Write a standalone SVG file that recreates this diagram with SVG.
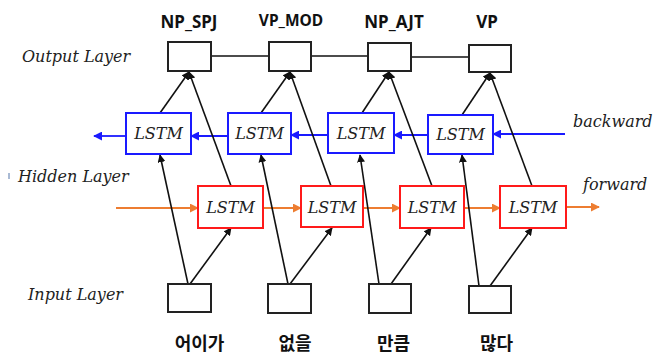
<svg xmlns="http://www.w3.org/2000/svg" width="672" height="356" viewBox="0 0 672 356">
<style>
.lbl{font-family:"DejaVu Serif",serif;font-style:italic;font-size:16px;fill:#222}
.cell{font-family:"DejaVu Serif",serif;font-style:italic;font-size:16px;fill:#222;text-anchor:middle}
.tag{font-family:"Noto Sans","Liberation Sans",sans-serif;font-weight:bold;fill:#111;text-anchor:middle}
.kor{font-family:"Noto Sans CJK KR",sans-serif;font-weight:bold;font-size:18px;fill:#111;text-anchor:middle}
.box{fill:#fff;stroke:#222;stroke-width:2}
.bl{fill:#fff;stroke:#1a1aff;stroke-width:2}
.rd{fill:#fff;stroke:#ff1a1a;stroke-width:2}
.k{stroke:#111;stroke-width:1.6;fill:none}
.kb{stroke:#1a1aff;stroke-width:1.8;fill:none}
.ko{stroke:#ed7d31;stroke-width:1.8;fill:none}
</style>
<defs>
<marker id="ak" viewBox="0 0 10 10" refX="9" refY="5" markerWidth="8" markerHeight="8" markerUnits="userSpaceOnUse" orient="auto"><path d="M0,0 L10,5 L0,10 z" fill="#111"/></marker>
<marker id="ab" viewBox="0 0 10 10" refX="9" refY="5" markerWidth="9" markerHeight="9" markerUnits="userSpaceOnUse" orient="auto"><path d="M0,0 L10,5 L0,10 z" fill="#1a1aff"/></marker>
<marker id="ao" viewBox="0 0 10 10" refX="9" refY="5" markerWidth="9" markerHeight="9" markerUnits="userSpaceOnUse" orient="auto"><path d="M0,0 L10,5 L0,10 z" fill="#ed7d31"/></marker>
</defs>

<text class="lbl" x="22" y="62">Output Layer</text>
<text class="lbl" x="18" y="182">Hidden Layer</text>
<text class="lbl" x="28" y="300">Input Layer</text>
<text class="lbl" x="573" y="127">backward</text>
<text class="lbl" x="583" y="190">forward</text>
<line x1="9" y1="173" x2="9" y2="179" stroke="#5577aa" stroke-width="1"/>

<g id="connectors">
<line class="k" x1="211" y1="56" x2="269" y2="56"/>
<line class="k" x1="311" y1="56" x2="368" y2="56"/>
<line class="k" x1="411" y1="57" x2="469" y2="57"/>
<line class="kb" x1="126" y1="136" x2="94" y2="136" marker-end="url(#ab)"/>
<line class="kb" x1="228" y1="136" x2="191" y2="136" marker-end="url(#ab)"/>
<line class="kb" x1="328" y1="135" x2="291" y2="135" marker-end="url(#ab)"/>
<line class="kb" x1="428" y1="135" x2="394" y2="135" marker-end="url(#ab)"/>
<line class="kb" x1="565" y1="134" x2="493" y2="134" marker-end="url(#ab)"/>
<line class="ko" x1="116" y1="208" x2="198" y2="208" marker-end="url(#ao)"/>
<line class="ko" x1="263" y1="208" x2="301" y2="208" marker-end="url(#ao)"/>
<line class="ko" x1="363" y1="208" x2="400" y2="208" marker-end="url(#ao)"/>
<line class="ko" x1="464" y1="208" x2="500" y2="208" marker-end="url(#ao)"/>
<line class="ko" x1="566" y1="207" x2="599" y2="207" marker-end="url(#ao)"/>
<line class="k" x1="188" y1="284" x2="160" y2="155" marker-end="url(#ak)"/>
<line class="k" x1="190" y1="284" x2="231" y2="228" marker-end="url(#ak)"/>
<line class="k" x1="160" y1="113" x2="189" y2="72" marker-end="url(#ak)"/>
<line class="k" x1="231" y1="186" x2="189" y2="72" marker-end="url(#ak)"/>
<line class="k" x1="288" y1="284" x2="261" y2="155" marker-end="url(#ak)"/>
<line class="k" x1="290" y1="284" x2="332" y2="228" marker-end="url(#ak)"/>
<line class="k" x1="261" y1="113" x2="290" y2="72" marker-end="url(#ak)"/>
<line class="k" x1="331" y1="186" x2="290" y2="72" marker-end="url(#ak)"/>
<line class="k" x1="379" y1="284" x2="360" y2="155" marker-end="url(#ak)"/>
<line class="k" x1="391" y1="284" x2="431" y2="228" marker-end="url(#ak)"/>
<line class="k" x1="362" y1="113" x2="389" y2="72" marker-end="url(#ak)"/>
<line class="k" x1="432" y1="186" x2="389" y2="72" marker-end="url(#ak)"/>
<line class="k" x1="479" y1="286" x2="462" y2="155" marker-end="url(#ak)"/>
<line class="k" x1="490" y1="286" x2="532" y2="228" marker-end="url(#ak)"/>
<line class="k" x1="462" y1="115" x2="490" y2="73" marker-end="url(#ak)"/>
<line class="k" x1="532" y1="186" x2="490" y2="73" marker-end="url(#ak)"/>
</g>

<g id="out1"><rect class="box" x="168" y="42" width="43" height="29"/><text class="tag" x="189" y="27.5" font-size="17">NP_SPJ</text></g>
<g id="out2"><rect class="box" x="269" y="42" width="42" height="29"/><text class="tag" x="291" y="26" font-size="15.5">VP_MOD</text></g>
<g id="out3"><rect class="box" x="368" y="43" width="43" height="28"/><text class="tag" x="394" y="27.5" font-size="17">NP_AJT</text></g>
<g id="out4"><rect class="box" x="469" y="45" width="42" height="27"/><text class="tag" x="487" y="27.5" font-size="17">VP</text></g>

<g id="bw1"><rect class="bl" x="126" y="113" width="65" height="41"/><text class="cell" x="158.5" y="139">LSTM</text></g>
<g id="bw2"><rect class="bl" x="228" y="113" width="63" height="41"/><text class="cell" x="259.5" y="139">LSTM</text></g>
<g id="bw3"><rect class="bl" x="328" y="113" width="66" height="40"/><text class="cell" x="361" y="139">LSTM</text></g>
<g id="bw4"><rect class="bl" x="428" y="115" width="65" height="39"/><text class="cell" x="460.5" y="140">LSTM</text></g>

<g id="fw1"><rect class="rd" x="198" y="186" width="65" height="42"/><text class="cell" x="230.5" y="213">LSTM</text></g>
<g id="fw2"><rect class="rd" x="301" y="186" width="62" height="41"/><text class="cell" x="332" y="213">LSTM</text></g>
<g id="fw3"><rect class="rd" x="400" y="186" width="64" height="42"/><text class="cell" x="432" y="213">LSTM</text></g>
<g id="fw4"><rect class="rd" x="500" y="186" width="66" height="42"/><text class="cell" x="533" y="213">LSTM</text></g>

<g id="in1"><rect class="box" x="168" y="284" width="43" height="28"/><text class="kor" x="199.5" y="350">어이가</text></g>
<g id="in2"><rect class="box" x="268" y="284" width="43" height="29"/><text class="kor" x="295" y="350">없을</text></g>
<g id="in3"><rect class="box" x="369" y="284" width="42" height="29"/><text class="kor" x="393.5" y="350">만큼</text></g>
<g id="in4"><rect class="box" x="469" y="286" width="42" height="27"/><text class="kor" x="496.5" y="350">많다</text></g>
</svg>
